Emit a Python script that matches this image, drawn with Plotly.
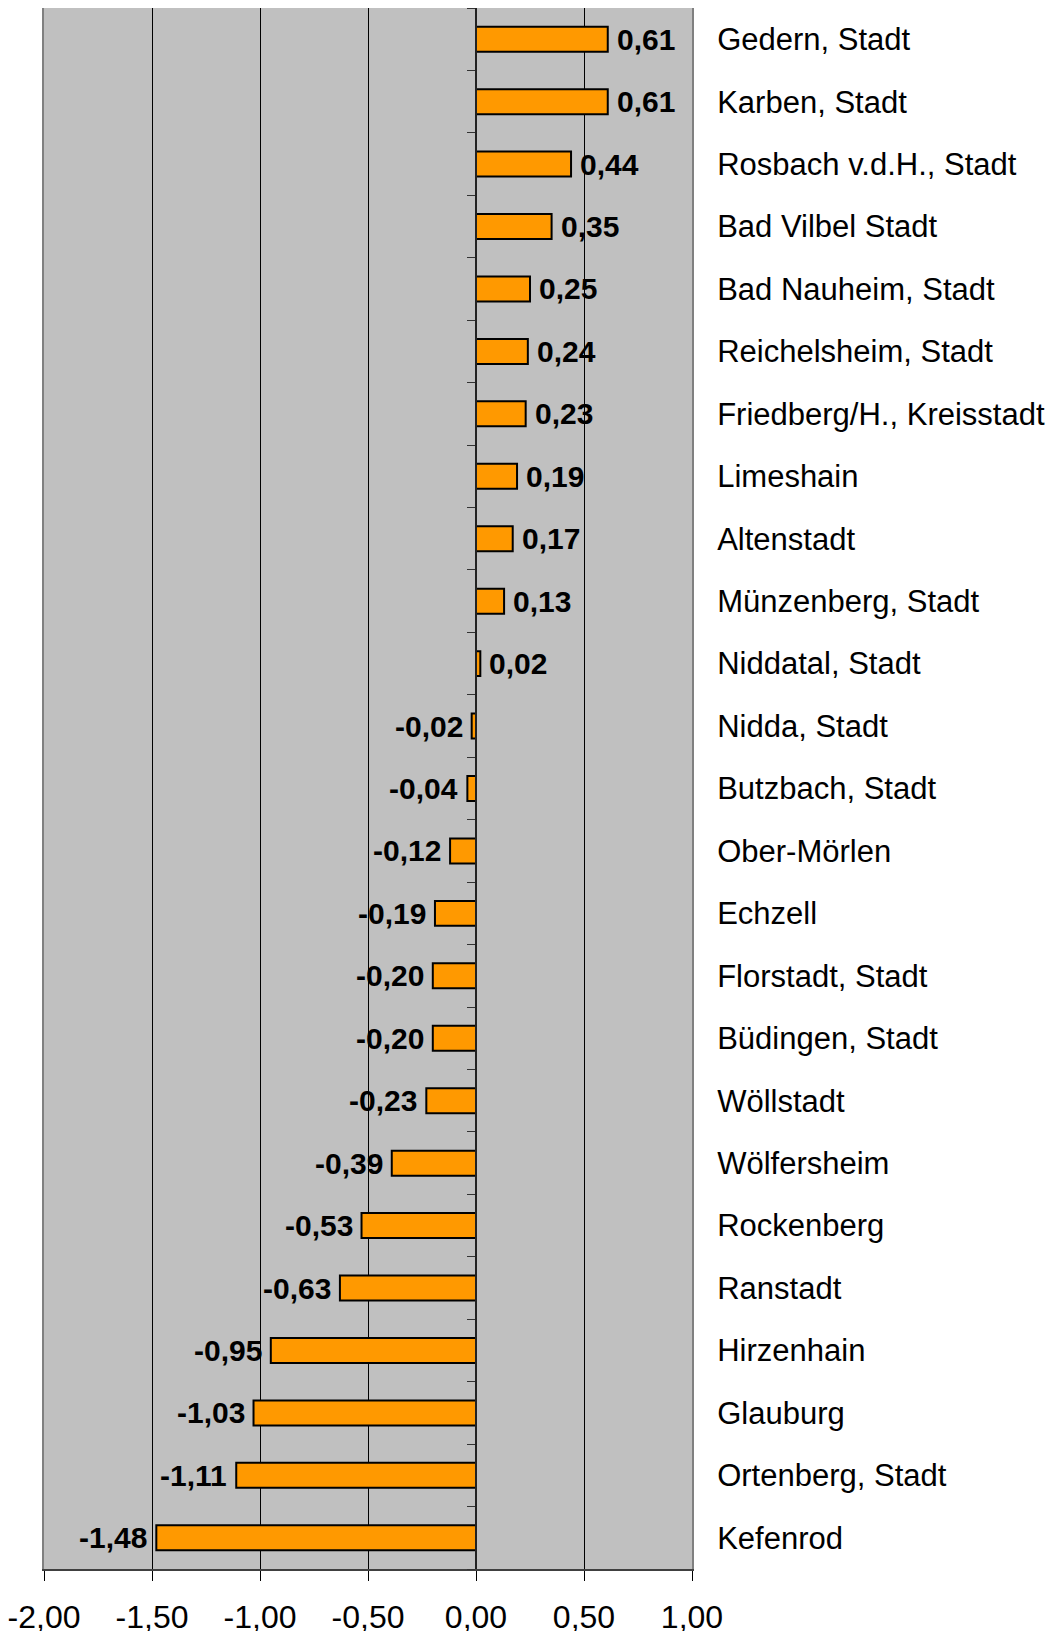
import plotly.graph_objects as go

categories = [
    "Gedern, Stadt", "Karben, Stadt", "Rosbach v.d.H., Stadt", "Bad Vilbel Stadt",
    "Bad Nauheim, Stadt", "Reichelsheim, Stadt", "Friedberg/H., Kreisstadt",
    "Limeshain", "Altenstadt", "Münzenberg, Stadt", "Niddatal, Stadt",
    "Nidda, Stadt", "Butzbach, Stadt", "Ober-Mörlen", "Echzell",
    "Florstadt, Stadt", "Büdingen, Stadt", "Wöllstadt", "Wölfersheim",
    "Rockenberg", "Ranstadt", "Hirzenhain", "Glauburg", "Ortenberg, Stadt",
    "Kefenrod",
]
values = [
    0.61, 0.61, 0.44, 0.35, 0.25, 0.24, 0.23, 0.19, 0.17, 0.13, 0.02,
    -0.02, -0.04, -0.12, -0.19, -0.20, -0.20, -0.23, -0.39, -0.53, -0.63,
    -0.95, -1.03, -1.11, -1.48,
]
x_tickvals = [-2.0, -1.5, -1.0, -0.5, 0.0, 0.5, 1.0]
x_ticktext = ["-2,00", "-1,50", "-1,00", "-0,50", "0,00", "0,50", "1,00"]

FONT = "Liberation Sans, Arial, sans-serif"


def fmt(v):
    s = f"{abs(v):.2f}".replace(".", ",")
    return ("-" + s) if v < 0 else s


fig = go.Figure()
fig.add_trace(go.Bar(
    x=values, y=categories, orientation="h",
    marker=dict(color="#FF9900", line=dict(color="#000000", width=2)),
    width=0.4, showlegend=False, hoverinfo="skip",
))

for c, v in zip(categories, values):
    fig.add_annotation(
        x=v, y=c, xref="x", yref="y", text=fmt(v), showarrow=False,
        xanchor="left" if v >= 0 else "right", yanchor="middle",
        xshift=7 if v >= 0 else -7,
        font=dict(family=FONT, size=30, color="#000000", weight="bold"),
    )

n = len(categories)
fig.add_trace(go.Scatter(x=[0], y=[0], xaxis="x2", yaxis="y2", mode="markers",
                         marker=dict(opacity=0), showlegend=False, hoverinfo="skip"))

fig.update_layout(
    width=1053, height=1623,
    margin=dict(l=36, r=369, t=0, b=62),
    paper_bgcolor="#FFFFFF", plot_bgcolor="#C0C0C0",
    font=dict(family=FONT, color="#000000"),
    bargap=0.6,
    xaxis=dict(
        range=[-2, 1], tickvals=x_tickvals, ticktext=x_ticktext,
        showgrid=True, gridcolor="#000000", gridwidth=1, zeroline=False,
        ticks="outside", ticklen=10, tickwidth=1, tickcolor="#000000",
        showline=True, linecolor="#404040", linewidth=2, mirror=False,
        tickfont=dict(family=FONT, size=32, color="#000000"),
        ticklabelstandoff=9, ticklabeloverflow="allow", automargin=False,
    ),
    xaxis2=dict(
        overlaying="x", side="top", range=[-2, 1], showticklabels=False,
        ticks="", showgrid=False, zeroline=False,
        showline=True, linecolor="#808080", linewidth=2, automargin=False,
    ),
    yaxis=dict(
        type="category", categoryorder="array", categoryarray=categories,
        range=[n - 0.5, -0.5], side="right", ticks="", showgrid=False,
        zeroline=False, showline=True, linecolor="#808080", linewidth=2, mirror=True,
        tickfont=dict(family=FONT, size=31, color="#000000"),
        ticklabelstandoff=17, automargin=False,
    ),
    yaxis2=dict(
        overlaying="y", anchor="free", position=2 / 3, side="left",
        range=[n - 0.5, -0.5], tickvals=[i - 0.5 for i in range(n + 1)],
        showticklabels=False, ticks="outside", ticklen=8, tickwidth=1,
        tickcolor="#333333", showgrid=False, zeroline=False,
        showline=True, linecolor="#222222", linewidth=1.5, automargin=False,
    ),
)

fig.write_html("out.html")
